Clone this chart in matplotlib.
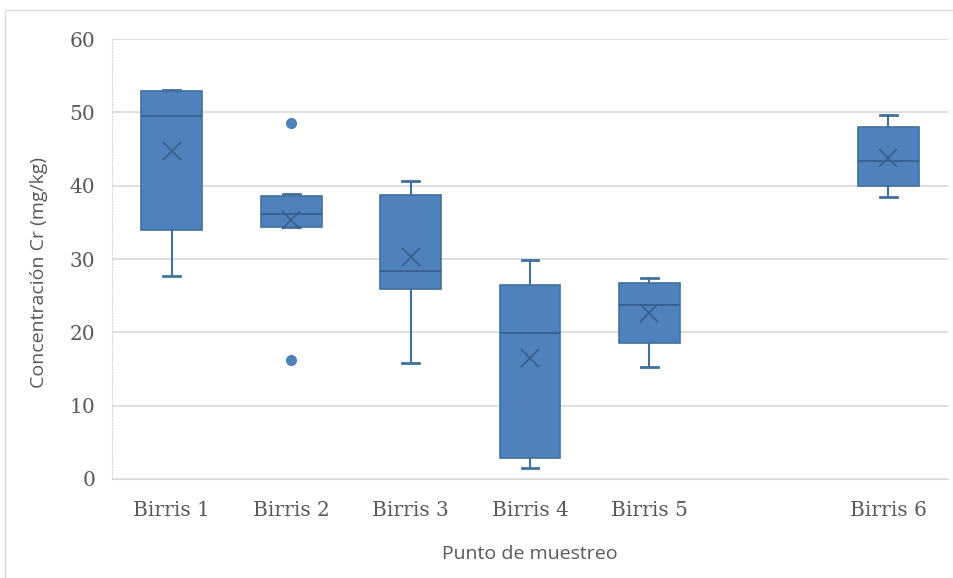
import matplotlib.pyplot as plt
from matplotlib.patches import Rectangle

# Box statistics (mg/kg)
positions = [1, 2, 3, 4, 5, 7]
tick_labels = ["Birris 1", "Birris 2", "Birris 3", "Birris 4", "Birris 5", "Birris 6"]
whislo = [27.7, 34.3, 15.8, 1.5, 15.3, 38.5]
q1 = [33.9, 34.4, 25.9, 2.8, 18.6, 40.0]
med = [49.5, 36.1, 28.4, 19.9, 23.7, 43.3]
q3 = [52.9, 38.6, 38.7, 26.5, 26.7, 48.0]
whishi = [53.1, 38.9, 40.6, 29.8, 27.4, 49.6]
means = [44.7, 35.3, 30.3, 16.5, 22.7, 43.8]
fliers = [[], [48.6, 16.2], [], [], [], []]

fill = "#4F81BD"
edge = "#41719C"
dark = "#385D8A"
txt = "#595959"

stats = []
for i in range(len(positions)):
    stats.append({"med": med[i], "q1": q1[i], "q3": q3[i],
                  "whislo": whislo[i], "whishi": whishi[i],
                  "mean": means[i], "fliers": fliers[i]})

fig = plt.figure(figsize=(9.54, 5.78), dpi=100)
ax = fig.add_axes([0.1174, 0.1713, 0.8763, 0.7612])

# outer chart border
fig.patches.append(Rectangle((0.005, -0.01), 1.0, 0.993, transform=fig.transFigure,
                             fill=False, edgecolor="#D9D9D9", linewidth=1))

ax.bxp(stats, positions=positions, widths=0.51, patch_artist=True,
       showmeans=True, showfliers=True,
       boxprops=dict(facecolor=fill, edgecolor=edge, linewidth=1.2),
       medianprops=dict(color=dark, linewidth=1.2),
       whiskerprops=dict(color=edge, linewidth=1.5),
       capprops=dict(color=edge, linewidth=2),
       capwidths=0.14,
       meanprops=dict(marker="x", markeredgecolor=dark, markersize=13, markeredgewidth=1.2),
       flierprops=dict(marker="o", markerfacecolor=fill, markeredgecolor=fill, markersize=7))

ax.set_xlim(0.5, 7.5)
ax.set_ylim(0, 60)
ax.set_yticks(range(0, 61, 10))
ax.set_xticks(positions)
ax.set_xticklabels(tick_labels)
ax.yaxis.grid(True, color="#D9D9D9", linewidth=1.2)
ax.set_axisbelow(True)
ax.tick_params(length=0, labelsize=14.5, colors=txt, pad=12)
ax.tick_params(axis="x", pad=16)
for lab in ax.get_xticklabels() + ax.get_yticklabels():
    lab.set_family("DejaVu Serif")

for s in ["top", "right"]:
    ax.spines[s].set_visible(False)
ax.spines["bottom"].set_color("#D9D9D9")
ax.spines["left"].set_color("#D9D9D9")
ax.spines["left"].set_linestyle(":")

ax.set_ylabel("Concentración Cr (mg/kg)", fontsize=14, family="Open Sans", color=txt)
ax.yaxis.set_label_coords(-0.077, 0.47)
ax.set_xlabel("Punto de muestreo", fontsize=14, family="Open Sans", color=txt, labelpad=18)

fig.savefig("out.png", dpi=100)
